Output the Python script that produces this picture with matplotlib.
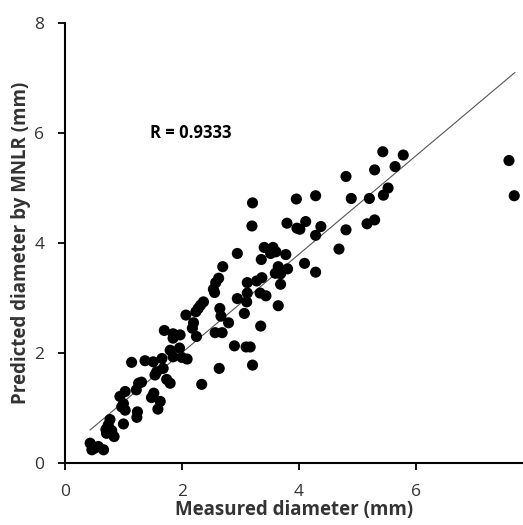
import matplotlib.pyplot as plt
import numpy as np

# measured vs predicted diameters (mm)
measured = [
    5.44, 5.79, 5.30, 5.65, 5.53, 5.45, 5.21, 5.30, 5.17, 7.60, 7.69,
    4.81, 3.21, 3.96, 4.29, 4.90, 3.20, 3.80, 4.12, 3.97, 4.02, 4.38,
    4.29, 4.81, 4.69, 3.41, 3.56, 3.52, 3.61, 3.78, 3.36, 4.10, 3.65,
    3.81, 3.60, 3.69, 4.29, 3.37, 3.28, 3.69, 3.34, 3.44, 3.65, 3.35,
    3.21, 3.17,
    2.95, 2.70, 2.63, 2.58, 2.54, 2.56, 3.12, 3.12, 2.95, 3.11, 2.37,
    2.32, 2.28, 2.24, 2.65, 2.67, 3.07, 2.07, 2.20, 2.18, 2.25, 2.80,
    2.57, 2.69, 1.70, 1.85, 1.97, 1.85, 2.90, 3.10, 1.80, 1.96, 1.85,
    1.66, 2.00, 2.09, 1.51, 1.68, 1.57, 2.64, 1.74, 1.80, 2.34, 1.54,
    1.52,
    1.14, 1.37, 1.26, 1.31, 1.22, 1.03, 1.48, 1.63, 1.59, 0.94, 1.00,
    1.03, 0.97, 1.24, 1.23, 1.00, 0.77, 0.74, 0.70, 0.80, 0.71, 0.84,
    0.43, 0.46, 0.51, 0.66, 0.57,
]
predicted = [
    5.66, 5.60, 5.33, 5.39, 5.00, 4.87, 4.81, 4.42, 4.35, 5.50, 4.86,
    5.21, 4.73, 4.80, 4.86, 4.81, 4.31, 4.36, 4.39, 4.27, 4.25, 4.30,
    4.14, 4.24, 3.89, 3.92, 3.92, 3.81, 3.84, 3.79, 3.70, 3.63, 3.57,
    3.53, 3.45, 3.44, 3.47, 3.37, 3.31, 3.25, 3.09, 3.04, 2.86, 2.49,
    1.78, 2.11,
    3.81, 3.57, 3.36, 3.28, 3.16, 3.10, 3.28, 3.09, 2.99, 2.93, 2.93,
    2.87, 2.81, 2.75, 2.81, 2.67, 2.72, 2.69, 2.55, 2.45, 2.30, 2.55,
    2.37, 2.37, 2.41, 2.35, 2.33, 2.27, 2.13, 2.11, 2.05, 2.09, 1.93,
    1.90, 1.92, 1.89, 1.84, 1.72, 1.66, 1.72, 1.52, 1.45, 1.43, 1.60,
    1.27,
    1.83, 1.86, 1.45, 1.47, 1.33, 1.30, 1.19, 1.12, 0.98, 1.21, 1.08,
    0.96, 1.02, 0.93, 0.83, 0.71, 0.79, 0.69, 0.61, 0.59, 0.54, 0.48,
    0.36, 0.24, 0.27, 0.24, 0.30,
]

# trend line as drawn in the original
fit_slope = 0.894
fit_intercept = 0.216
fit_range = [0.43, 7.7]

x = np.array(measured)
y = np.array(predicted)

fig = plt.figure(figsize=(5.23, 5.25), dpi=100)
ax = fig.add_axes([0.1243, 0.1181, 0.8757, 0.838])

ax.scatter(x, y, s=64, color='black', edgecolors='none', zorder=3)

xf = np.array(fit_range)
ax.plot(xf, fit_slope * xf + fit_intercept, color='#555555', linewidth=0.8, zorder=2)

ax.text(1.45, 6.0, 'R = 0.9333', fontsize=12, fontweight='bold',
        family='Open Sans', va='center')

ax.set_xlim(0, 7.84)
ax.set_ylim(0, 8)
ax.set_xticks([0, 2, 4, 6])
ax.set_yticks([0, 2, 4, 6, 8])

ax.spines['top'].set_visible(False)
ax.spines['right'].set_visible(False)
ax.spines['left'].set_linewidth(1.5)
ax.spines['bottom'].set_linewidth(1.5)
ax.tick_params(direction='out', length=5, width=1.3, labelsize=12.5)
ax.tick_params(axis='x', pad=10)
ax.tick_params(axis='y', pad=10)
for lbl in ax.get_xticklabels() + ax.get_yticklabels():
    lbl.set_family('Open Sans')
    lbl.set_color('#333333')

ax.set_xlabel('Measured diameter (mm)', fontsize=13.5, fontweight='bold',
              family='Open Sans', labelpad=0, color='#333333')
ax.set_ylabel('Predicted diameter by MNLR (mm)', fontsize=13.5, fontweight='bold',
              family='Open Sans', labelpad=2, color='#333333')

fig.savefig('out.png', dpi=100)
